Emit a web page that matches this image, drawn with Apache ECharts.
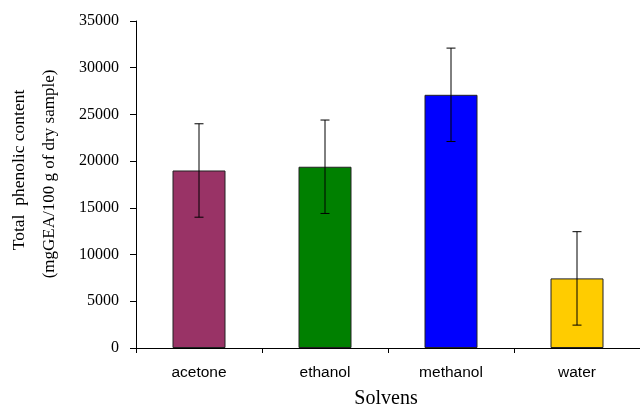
<!DOCTYPE html>
<html>
<head>
<meta charset="utf-8">
<script src="https://cdn.jsdelivr.net/npm/echarts@6/dist/echarts.min.js"></script>
<style>
html,body{margin:0;padding:0;background:#fff;}
#chart{width:640px;height:406px;}
</style>
</head>
<body>
<div id="chart"></div>
<script>
var categories = ['acetone', 'ethanol', 'methanol', 'water'];
var values = [19000, 19400, 27100, 7450];
var errors = [5000, 5000, 5000, 5000];
var barColors = ['#993366', '#008000', '#0000FF', '#FFCC00'];
var yTicks = [0, 5000, 10000, 15000, 20000, 25000, 30000, 35000];

var errData = values.map(function (v, i) { return [i, v - errors[i], v + errors[i]]; });

var chart = echarts.init(document.getElementById('chart'));
chart.setOption({
  animation: false,
  grid: { left: 136, top: 21, width: 511, height: 327, containLabel: false },
  xAxis: {
    type: 'category',
    data: categories,
    axisLine: { lineStyle: { color: '#000', width: 1 } },
    axisTick: { show: true, length: 5, lineStyle: { color: '#000' } },
    axisLabel: { color: '#000', fontFamily: 'Liberation Sans', fontSize: 15.5, margin: 17 },
    splitLine: { show: false }
  },
  yAxis: {
    type: 'value',
    min: yTicks[0],
    max: yTicks[yTicks.length - 1],
    interval: 5000,
    axisLine: { show: true, lineStyle: { color: '#000', width: 1 } },
    axisTick: { show: true, length: 6, lineStyle: { color: '#000' } },
    axisLabel: { color: '#000', fontFamily: 'Liberation Serif', fontSize: 16, margin: 17,
      formatter: function (v) { return String(v); } },
    splitLine: { show: false }
  },
  graphic: [
    { type: 'text', x: 19, y: 170, rotation: Math.PI / 2,
      style: { text: 'Total  phenolic content', font: '17.5px "Liberation Serif"', fill: '#000', align: 'center', verticalAlign: 'middle' } },
    { type: 'text', x: 50, y: 174, rotation: Math.PI / 2,
      style: { text: '(mgGEA/100 g of dry sample)', font: '17px "Liberation Serif"', fill: '#000', align: 'center', verticalAlign: 'middle' } },
    { type: 'text', x: 386, y: 399,
      style: { text: 'Solvens', font: '20px "Liberation Serif"', fill: '#000', align: 'center', verticalAlign: 'middle' } }
  ],
  series: [
    {
      type: 'bar',
      data: values.map(function (v, i) {
        return { value: v, itemStyle: { color: barColors[i] } };
      }),
      barWidth: 53,
      itemStyle: { borderColor: '#222', borderWidth: 1 }
    },
    {
      type: 'custom',
      data: errData,
      z: 10,
      renderItem: function (params, api) {
        var x = api.value(0);
        var lo = api.coord([x, api.value(1)]);
        var hi = api.coord([x, api.value(2)]);
        var hw = 4.5;
        var st = { stroke: '#000', lineWidth: 1 };
        return {
          type: 'group',
          children: [
            { type: 'line', shape: { x1: hi[0], y1: hi[1], x2: lo[0], y2: lo[1] }, style: st },
            { type: 'line', shape: { x1: hi[0] - hw, y1: hi[1], x2: hi[0] + hw, y2: hi[1] }, style: st },
            { type: 'line', shape: { x1: lo[0] - hw, y1: lo[1], x2: lo[0] + hw, y2: lo[1] }, style: st }
          ]
        };
      }
    }
  ]
});
</script>
</body>
</html>
